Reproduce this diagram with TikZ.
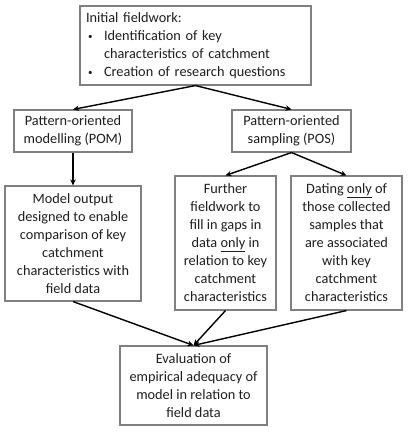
\documentclass[tikz,border=0pt]{standalone}
\usepackage{fontspec}
\setmainfont{Carlito}
\usetikzlibrary{arrows.meta}
\definecolor{boxgray}{RGB}{128,128,128}
\definecolor{txt}{RGB}{30,30,30}
\tikzset{
  box/.style={draw=boxgray, line width=1.1pt, rectangle, inner sep=0pt, align=center, text=txt,
    font=\fontsize{14.3}{18}\selectfont},
  conn/.style={line width=1.4pt, -{Stealth[length=6pt,width=5.5pt]}}
}
\newcommand{\smbul}{\raisebox{1pt}{\fontsize{9}{9}\selectfont\textbullet}}
\begin{document}
\begin{tikzpicture}[x=1pt,y=-1pt]
\useasboundingbox (0,0) rectangle (408,436);
\node[box, minimum width=231pt, minimum height=79pt, text width=219pt, align=left] (top) at (195.5,45.5)
  {\begin{tabular}{@{}p{18pt}@{}l@{}}
   \multicolumn{2}{@{}l@{}}{Initial fieldwork:}\\
   \hspace{2pt}\smbul & Identification of key\\
   & characteristics of catchment\\
   \hspace{2pt}\smbul & Creation of research questions
   \end{tabular}};
\node[box, minimum width=118pt, minimum height=42pt] (pom) at (73,131) {Pattern-oriented\\modelling (POM)};
\node[box, minimum width=119pt, minimum height=42pt] (pos) at (291.5,131) {Pattern-oriented\\sampling (POS)};
\node[box, minimum width=136pt, minimum height=115pt] (model) at (73,243.5)
  {Model output\\designed to enable\\comparison of key\\catchment\\characteristics with\\field data};
\node[box, minimum width=101pt, minimum height=134pt] (further) at (225.5,243)
  {Further\\fieldwork to\\fill in gaps in\\data \underline{only} in\\relation to key\\catchment\\characteristics};
\node[box, minimum width=111pt, minimum height=134pt] (dating) at (346.5,243)
  {Dating \underline{only} of\\those collected\\samples that\\are associated\\with key\\catchment\\characteristics};
\node[box, minimum width=147pt, minimum height=79pt] (eval) at (193.5,385.5)
  {Evaluation of\\empirical adequacy of\\model in relation to\\field data};
\draw[conn] (top.south) -- (pom.north);
\draw[conn] (top.south) -- (pos.north);
\draw[conn] (pom.south) -- (model.north);
\draw[conn] (pos.south) -- (further.north);
\draw[conn] (pos.south) -- (dating.north);
\draw[conn] (model.south) -- (eval.north);
\draw[conn] (further.south) -- (eval.north);
\draw[conn] (dating.south) -- (eval.north);
\end{tikzpicture}
\end{document}
